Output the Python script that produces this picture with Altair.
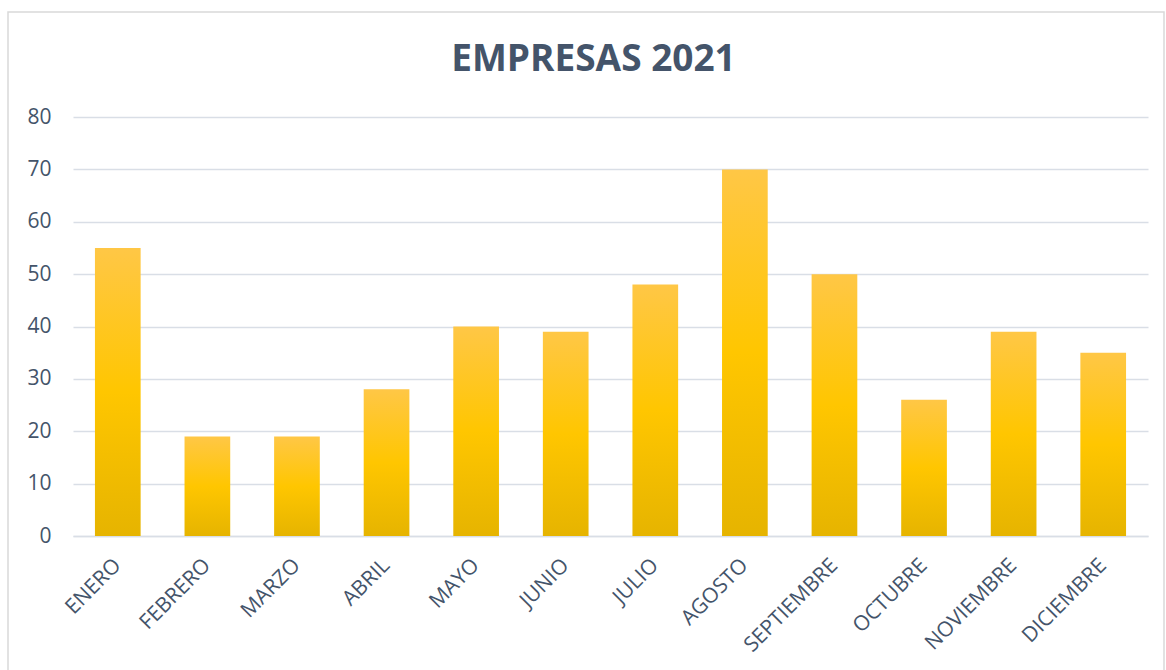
import altair as alt
import pandas as pd

months = ["ENERO", "FEBRERO", "MARZO", "ABRIL", "MAYO", "JUNIO", "JULIO",
          "AGOSTO", "SEPTIEMBRE", "OCTUBRE", "NOVIEMBRE", "DICIEMBRE"]
values = [55, 19, 19, 28, 40, 39, 48, 70, 50, 26, 39, 35]
y_ticks = [0, 10, 20, 30, 40, 50, 60, 70, 80]

df = pd.DataFrame({"mes": months, "empresas": values})

TEXT = "#44546A"
GRID = "#D9DEE6"
FONT = "Open Sans"

W, H = 1075, 419
PL, PT = 73, 117

gradient = alt.Gradient(
    gradient="linear",
    stops=[
        alt.GradientStop(color="#FFC746", offset=0),
        alt.GradientStop(color="#FFC600", offset=0.5),
        alt.GradientStop(color="#E6B400", offset=1),
    ],
    x1=0, x2=0, y1=0, y2=1,
)

border = alt.Chart(pd.DataFrame({"a": [0]})).mark_rect(
    fill=None, stroke="#D9D9D9", strokeWidth=1.5
).encode(
    x=alt.value(8 - PL), x2=alt.value(1164 - PL),
    y=alt.value(12 - PT), y2=alt.value(680 - PT),
)

bars = alt.Chart(df).mark_bar(fill=gradient).encode(
    x=alt.X("mes:N", sort=months,
            scale=alt.Scale(paddingInner=0.49, paddingOuter=0.245),
            axis=alt.Axis(title=None, labelAngle=-45, labelAlign="right",
                          labelBaseline="middle", labelPadding=26,
                          labelFontSize=21, labelColor=TEXT, labelFont=FONT,
                          ticks=False, domain=True, domainColor=GRID,
                          domainWidth=1.5)),
    y=alt.Y("empresas:Q",
            scale=alt.Scale(domain=[0, 80], nice=False),
            axis=alt.Axis(title=None, values=y_ticks, labelFontSize=21,
                          labelColor=TEXT, labelFont=FONT, labelPadding=22,
                          ticks=False, domain=False, gridColor=GRID,
                          gridWidth=1.5)),
)

chart = alt.layer(border, bars).properties(
    width=W, height=H,
    background="white",
    title=alt.Title("EMPRESAS 2021", fontSize=37, font=FONT, fontWeight="bold",
                    color=TEXT, anchor="middle", offset=-97, dx=-17,
                    baseline="alphabetic"),
    autosize=alt.AutoSizeParams(type="none"),
    padding={"left": PL, "top": PT, "right": 1166 - PL - W, "bottom": 670 - PT - H},
).configure_view(stroke="transparent", strokeWidth=0)

chart.save("out.html", embed_options={"renderer": "svg", "actions": False})
